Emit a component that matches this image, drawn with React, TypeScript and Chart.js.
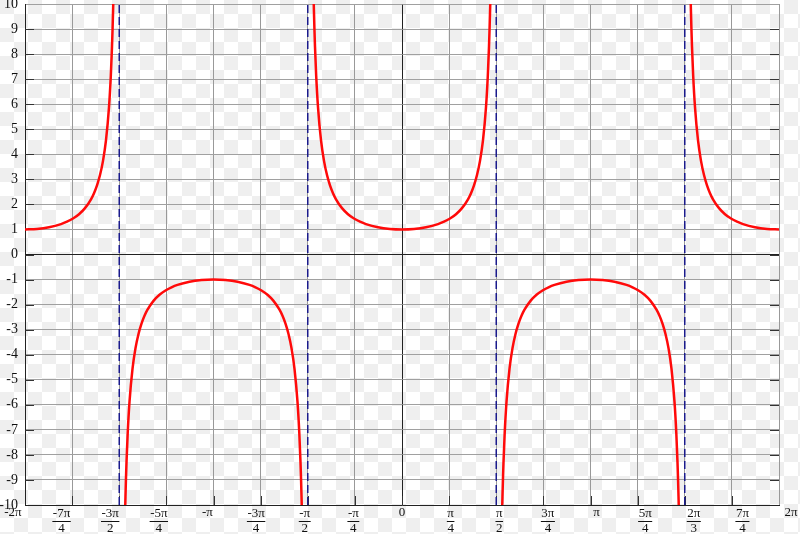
import React, { useEffect, useRef } from "react";
import { Chart, registerables } from "chart.js";

Chart.register(...registerables);

const PI = Math.PI;

// x ticks at multiples of π/4
const xTickQuarters = [-8, -7, -6, -5, -4, -3, -2, -1, 0, 1, 2, 3, 4, 5, 6, 7, 8];
const xTickLabels: string[][] = [
  ["-2π"], ["-7π", "4"], ["-3π", "2"], ["-5π", "4"], ["-π"], ["-3π", "4"], ["-π", "2"], ["-π", "4"],
  ["0"], ["π", "4"], ["π", "2"], ["3π", "4"], ["π"], ["5π", "4"], ["2π", "3"], ["7π", "4"], ["2π"],
];
const yMin = -10;
const yMax = 10;

// branch centres (multiples of π) and sign of each branch
const branchCenters = [-2, -1, 0, 1, 2];
const branchSigns = [1, -1, 1, -1, 1];
// half-branch: distance from branch centre (radians) and |y|
const halfOffsets = [0, 0.2, 0.4, 0.6, 0.7, 0.8, 0.9, 1.0, 1.1, 1.15, 1.2, 1.25, 1.3, 1.35, 1.4, 1.43, 1.45, 1.46, 1.4707];
const halfValues = [1, 1.02, 1.086, 1.212, 1.308, 1.435, 1.609, 1.851, 2.205, 2.448, 2.76, 3.171, 3.738, 4.566, 5.883, 7.126, 8.299, 9.044, 10];

// vertical asymptotes (multiples of π)
const asymptotes = [-1.5, -0.5, 0.5, 1.5];

const SERIF = "'Liberation Serif', 'Times New Roman', serif";
const LABEL_FONT = "13px " + SERIF;

const backgroundPlugin = {
  id: "checkerBg",
  beforeDraw(chart: any) {
    const { ctx, width, height } = chart;
    ctx.save();
    ctx.fillStyle = "#ffffff";
    ctx.fillRect(0, 0, width, height);
    ctx.fillStyle = "#efefef";
    const s = 14;
    for (let i = 0; i * s < width; i++) {
      for (let j = 0; j * s < height; j++) {
        if ((i + j) % 2 === 0) ctx.fillRect(i * s, j * s, s, s);
      }
    }
    ctx.restore();
  },
};

const ticksPlugin = {
  id: "inwardTicks",
  beforeDatasetsDraw(chart: any) {
    const { ctx, chartArea, scales } = chart;
    const { left, right, bottom } = chartArea;
    ctx.save();
    ctx.strokeStyle = "#333333";
    ctx.lineWidth = 1;
    const len = 9;
    ctx.beginPath();
    for (let v = yMin + 1; v < yMax; v++) {
      const py = Math.round(scales.y.getPixelForValue(v)) + 0.5;
      ctx.moveTo(left, py);
      ctx.lineTo(left + len, py);
      ctx.moveTo(right, py);
      ctx.lineTo(right - len, py);
    }
    for (let k = 1; k < xTickQuarters.length - 1; k++) {
      const px = Math.round(scales.x.getPixelForValue((xTickQuarters[k] * PI) / 4)) + 0.5;
      ctx.moveTo(px, bottom);
      ctx.lineTo(px, bottom - len);
    }
    ctx.stroke();
    ctx.restore();
  },
  afterDraw(chart: any) {
    const { ctx, scales } = chart;
    const x0 = scales.x.getPixelForValue(0);
    ctx.save();
    ctx.font = LABEL_FONT;
    ctx.fillStyle = "#111111";
    ctx.strokeStyle = "#111111";
    ctx.textAlign = "center";
    ctx.textBaseline = "middle";
    xTickQuarters.forEach((q, i) => {
      const px = scales.x.getPixelForValue((q * PI) / 4);
      const cx = x0 + (px - x0) * 1.032;
      const lab = xTickLabels[i];
      if (lab.length === 1) {
        ctx.fillText(lab[0], cx, 513);
      } else {
        ctx.fillText(lab[0], cx, 514);
        const w = ctx.measureText(lab[0]).width + 1;
        ctx.beginPath();
        ctx.lineWidth = 1;
        ctx.moveTo(cx - w / 2, 521.5);
        ctx.lineTo(cx + w / 2, 521.5);
        ctx.stroke();
        ctx.fillText(lab[1], cx, 528.5);
      }
    });
    ctx.restore();
  },
};

export default function App() {
  const ref = useRef<HTMLCanvasElement>(null);
  useEffect(() => {
    if (!ref.current) return;
    const datasets: any[] = [];
    asymptotes.forEach((a) => {
      datasets.push({
        data: [
          { x: a * PI, y: yMin },
          { x: a * PI, y: yMax },
        ],
        borderColor: "#1a1a8c",
        borderWidth: 1.5,
        borderDash: [8, 4],
        pointRadius: 0,
      });
    });
    branchCenters.forEach((c, b) => {
      const pts: { x: number; y: number }[] = [];
      for (let i = halfOffsets.length - 1; i > 0; i--) {
        pts.push({ x: c * PI - halfOffsets[i], y: branchSigns[b] * halfValues[i] });
      }
      for (let i = 0; i < halfOffsets.length; i++) {
        pts.push({ x: c * PI + halfOffsets[i], y: branchSigns[b] * halfValues[i] });
      }
      const data = pts.filter((p) => p.x >= -2 * PI - 1e-9 && p.x <= 2 * PI + 1e-9);
      datasets.push({
        data,
        borderColor: "#ff0a0a",
        borderWidth: 2.5,
        pointRadius: 0,
        cubicInterpolationMode: "monotone",
      });
    });

    const chart = new Chart(ref.current, {
      type: "line",
      data: { datasets },
      options: {
        animation: false,
        responsive: false,
        layout: { padding: { top: 4, right: 21, left: 0, bottom: 0 } },
        plugins: { legend: { display: false }, tooltip: { enabled: false } },
        scales: {
          x: {
            type: "linear",
            min: -2 * PI,
            max: 2 * PI,
            afterBuildTicks: (scale: any) => {
              scale.ticks = xTickQuarters.map((q) => ({ value: (q * PI) / 4 }));
            },
            afterFit: (scale: any) => {
              scale.height = 29;
              scale.paddingLeft = 0;
              scale.paddingRight = 0;
            },
            ticks: { display: false },
            grid: {
              drawTicks: false,
              color: (ctx: any) => (Math.abs(ctx.tick.value) < 1e-9 ? "#222222" : "#999999"),
              lineWidth: 1,
            },
            border: { display: true, color: "#222222", width: 1 },
          },
          y: {
            type: "linear",
            min: yMin,
            max: yMax,
            afterFit: (scale: any) => {
              scale.width = 25;
              scale.paddingTop = 0;
              scale.paddingBottom = 0;
            },
            ticks: {
              stepSize: 1,
              padding: 7,
              color: "#111111",
              font: { family: SERIF, size: 14 },
            },
            grid: {
              drawTicks: false,
              color: (ctx: any) => (ctx.tick.value === 0 ? "#222222" : "#a0a0a0"),
              lineWidth: 1,
            },
            border: { display: true, color: "#222222", width: 1 },
          },
        },
      },
      plugins: [backgroundPlugin, ticksPlugin],
    } as any);
    return () => chart.destroy();
  }, []);

  return (
    <div style={{ position: "fixed", left: 0, top: 0, width: 800, height: 534 }}>
      <canvas ref={ref} width={800} height={534} style={{ display: "block" }} />
    </div>
  );
}
